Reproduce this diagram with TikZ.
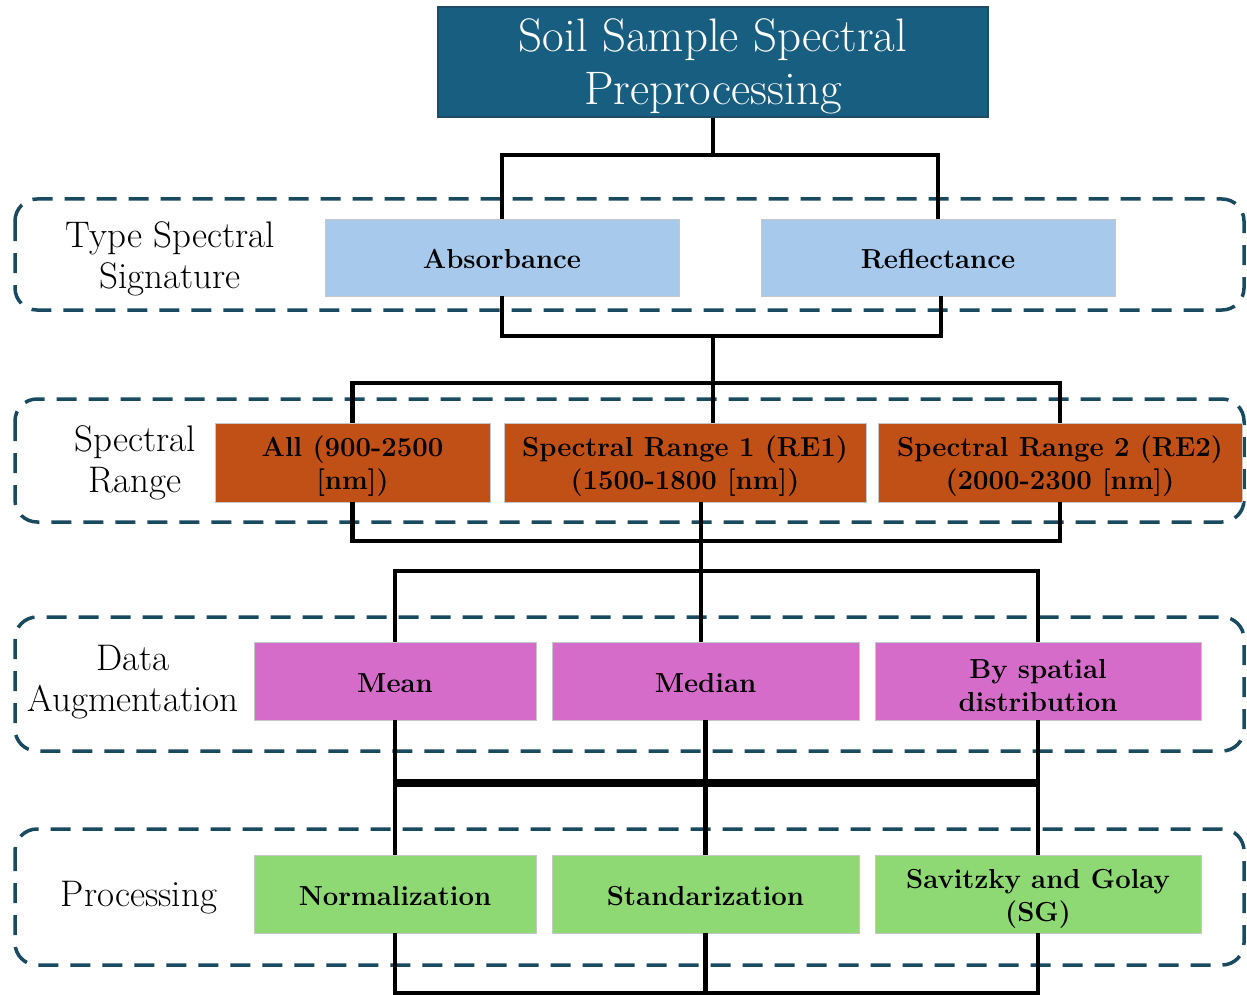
\documentclass[tikz,border=0pt]{standalone}
\usepackage{fontspec}
\usetikzlibrary{backgrounds}
\definecolor{titleblue}{RGB}{23,94,128}
\definecolor{titleedge}{RGB}{30,76,102}
\definecolor{laneline}{RGB}{26,74,96}
\definecolor{sigblue}{RGB}{166,201,236}
\definecolor{rangeorange}{RGB}{192,80,22}
\definecolor{augorchid}{RGB}{213,108,201}
\definecolor{procgreen}{RGB}{142,217,115}
% extra height on the first line lowers the text block a little
\newcommand\firstlinestrut{\rule{0pt}{28pt}}
\begin{document}
\begin{tikzpicture}[x=1pt,y=-1pt,
  lane/.style={draw=laneline, line width=3.5pt, dash pattern=on 20pt off 12pt, rounded corners=22pt},
  stage/.style={draw=black!22, line width=0.6pt, inner sep=0pt, align=center,
    font=\fontsize{27.5}{33}\selectfont\bfseries,
    execute at begin node={\rule{0pt}{23pt}}},
  lanelabel/.style={align=center, inner sep=0pt, font=\fontsize{37}{41}\selectfont},
  link/.style={draw=black, line width=4.2pt}
]
\useasboundingbox (0,0) rectangle (1247,995);

% title
\node[draw=titleedge, line width=2.5pt, fill=titleblue, text=white, align=center,
  minimum width=550pt, minimum height=110pt, inner sep=0pt,
  font=\fontsize{47}{53}\selectfont] (title) at (713,62) {\rule{0pt}{41pt}Soil Sample Spectral\\Preprocessing};

% stage labels
\node[lanelabel] (lblA) at (170,259) {Type Spectral\\Signature};
\node[lanelabel] (lblB) at (135,463) {Spectral\\Range};
\node[lanelabel] (lblC) at (133,682) {Data\\Augmentation};
\node[lanelabel] (lblD) at (139,898) {Processing};

% spectral signature
\node[stage, fill=sigblue, minimum width=354pt, minimum height=77pt] (abs) at (502,257.5) {Absorbance};
\node[stage, fill=sigblue, minimum width=354pt, minimum height=77pt] (ref) at (938,257.5) {Reflectance};

% spectral range
\node[stage, fill=rangeorange, minimum width=275pt, minimum height=79pt] (all) at (352.5,462.5) {\firstlinestrut All (900-2500\\{[nm]})};
\node[stage, fill=rangeorange, minimum width=362pt, minimum height=79pt] (re1) at (685,462.5) {\firstlinestrut Spectral Range 1 (RE1)\\(1500-1800 [nm])};
\node[stage, fill=rangeorange, minimum width=364pt, minimum height=79pt] (re2) at (1060,462.5) {\firstlinestrut Spectral Range 2 (RE2)\\(2000-2300 [nm])};

% data augmentation
\node[stage, fill=augorchid, minimum width=282pt, minimum height=78pt] (mean) at (395,681) {Mean};
\node[stage, fill=augorchid, minimum width=307pt, minimum height=78pt] (med) at (705.5,681) {Median};
\node[stage, fill=augorchid, minimum width=326pt, minimum height=78pt] (spat) at (1038,681) {\firstlinestrut By spatial\\distribution};

% processing
\node[stage, fill=procgreen, minimum width=282pt, minimum height=78pt] (norm) at (395,894) {Normalization};
\node[stage, fill=procgreen, minimum width=307pt, minimum height=78pt] (std) at (705.5,894) {Standarization};
\node[stage, fill=procgreen, minimum width=326pt, minimum height=78pt] (sg) at (1038,894) {\firstlinestrut Savitzky and Golay\\(SG)};

% dashed stage frames
\begin{scope}[on background layer]
  \draw[lane] (15,199) rectangle (1244,310);
  \draw[lane] (15,399) rectangle (1244,522);
  \draw[lane] (15,617) rectangle (1244,751);
  \draw[lane] (15,829) rectangle (1244,965);
\end{scope}

% bus levels
\coordinate (busA) at (0,155);
\coordinate (busB) at (0,336);
\coordinate (busC) at (0,383);
\coordinate (busD) at (0,541);
\coordinate (busE) at (0,571);
\coordinate (busF) at (0,781);
\coordinate (busG) at (0,784.5);
\coordinate (busH) at (0,993);

% title -> signature
\draw[link] (title.south) -- (title.south |- busA);
\draw[link] (abs.north) -- (abs.north |- busA) -- (ref.north |- busA) -- (ref.north);

% signature -> range
\draw[link] (abs.south) -- (abs.south |- busB) -- ([xshift=3pt]ref.south |- busB) -- ([xshift=3pt]ref.south);
\draw[link] (title.south |- busB) -- (title.south |- re1.north);
\draw[link] (all.north) -- (all.north |- busC) -- (re2.north |- busC) -- (re2.north);

% range -> augmentation
\draw[link] (all.south) -- (all.south |- busD) -- (re2.south |- busD) -- (re2.south);
\draw[link] ([xshift=-4.5pt]med.north |- re1.south) -- ([xshift=-4.5pt]med.north);
\draw[link] (mean.north) -- (mean.north |- busE) -- (spat.north |- busE) -- (spat.north);

% augmentation -> processing
\draw[link] (mean.south) -- (mean.south |- busF) -- (spat.south |- busF) -- (spat.south);
\draw[link] (med.south) -- (std.north);
\draw[link] (norm.north) -- (norm.north |- busG) -- (sg.north |- busG) -- (sg.north);

% processing outputs
\draw[link] (norm.south) -- (norm.south |- busH) -- (sg.south |- busH) -- (sg.south);
\draw[link] (std.south) -- (std.south |- busH);
\end{tikzpicture}
\end{document}
